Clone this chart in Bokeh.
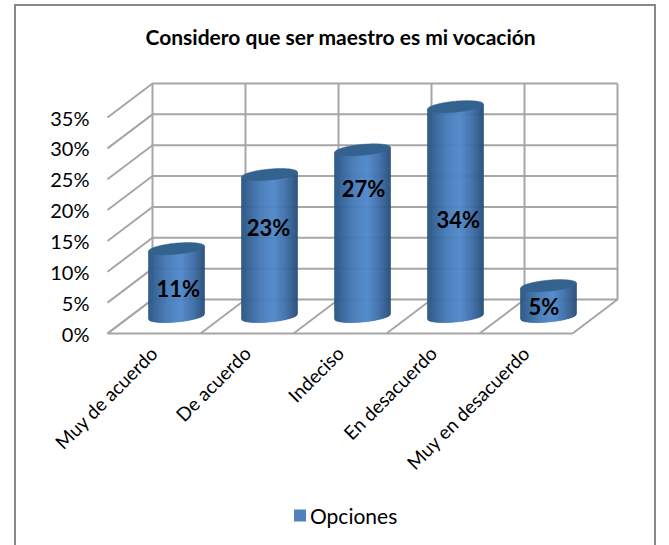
from math import pi, sqrt
from bokeh.plotting import figure
from bokeh.models import FixedTicker, NumeralTickFormatter, Legend, LegendItem
from bokeh.core.properties import value
from bokeh.embed import file_html
from bokeh.resources import INLINE

# ---- data
title = "Considero que ser maestro es mi vocación"
categories = ["Muy de acuerdo", "De acuerdo", "Indeciso", "En desacuerdo", "Muy en desacuerdo"]
values = [0.11, 0.23, 0.27, 0.34, 0.05]
value_labels = ["11%", "23%", "27%", "34%", "5%"]
y_ticks = [0.0, 0.05, 0.10, 0.15, 0.20, 0.25, 0.30, 0.35]
series_name = "Opciones"
# where the label sits along each cylinder (fraction of height) and its side shift
label_fraction = [0.41, 0.63, 0.77, 0.46, 0.32]
label_shift = [0.02, -0.01, 0.01, 0.03, -0.05]

# ---- oblique projection, in axis units
PX_X = 93.0            # pixels per category
PX_Y = 216.0 / 0.35    # pixels per unit of value
DEPTH_X = 45 / PX_X
DEPTH_Y = 34 / PX_Y
RX = 28 / PX_X         # cylinder half width
RY = 5.5 / PX_Y        # cap half height
SHEAR = 0.09 * PX_X / PX_Y   # rise of the ellipse to the right

GRID = "#a6a6a6"
STOPS = [(0.0, (42, 84, 130)), (0.12, (50, 98, 150)), (0.35, (70, 122, 184)),
         (0.58, (80, 136, 202)), (0.8, (62, 110, 168)), (1.0, (40, 78, 120))]
CAP = "#34628f"


def shade(t):
    for (t0, c0), (t1, c1) in zip(STOPS, STOPS[1:]):
        if t <= t1:
            f = (t - t0) / (t1 - t0)
            return "#%02x%02x%02x" % tuple(round(a + (b - a) * f) for a, b in zip(c0, c1))
    return "#%02x%02x%02x" % STOPS[-1][1]


p = figure(width=642, height=541, output_backend="svg", toolbar_location=None,
           x_range=(-0.5 - 2 / PX_X, 4.5 + DEPTH_X + 2 / PX_X),
           y_range=(-2 / PX_Y, 0.35 + 36 / PX_Y),
           min_border_left=89, min_border_right=39, min_border_top=75, min_border_bottom=212,
           background_fill_color="white", border_fill_color="white",
           styles={"position": "absolute", "left": "14px", "top": "4px",
                   "border-left": "2px solid #888888", "border-right": "2px solid #888888",
                   "border-top": "2px solid #888888", "box-sizing": "border-box"})
p.outline_line_color = None
p.grid.visible = False

ya = p.yaxis[0]
ya.ticker = FixedTicker(ticks=y_ticks)
ya.formatter = NumeralTickFormatter(format="0%")
ya.axis_line_color = None
ya.major_tick_line_color = None
ya.minor_tick_line_color = None
ya.major_label_standoff = 10
ya.major_label_text_font = "Lato"
ya.major_label_text_font_size = "20px"
ya.major_label_text_color = "#000000"

xa = p.xaxis[0]
xa.ticker = FixedTicker(ticks=list(range(len(categories))))
xa.major_label_overrides = {i: c for i, c in enumerate(categories)}
xa.major_label_orientation = pi / 4
xa.axis_line_color = None
xa.major_tick_line_color = None
xa.minor_tick_line_color = None
xa.major_label_standoff = 8
xa.major_label_text_font = "Lato"
xa.major_label_text_font_size = "19px"
xa.major_label_text_color = "#000000"

# ---- walls and floor
left, right = -0.5, -0.5 + len(categories)
top = y_ticks[-1]
gx, gy = [], []
for t in y_ticks:                       # back wall and side wall lines
    gx.append([left, left + DEPTH_X, right + DEPTH_X])
    gy.append([t, t + DEPTH_Y, t + DEPTH_Y])
for i in range(len(categories) + 1):    # floor depth lines and back verticals
    b = left + i
    gx.append([b, b + DEPTH_X, b + DEPTH_X])
    gy.append([0, DEPTH_Y, top + DEPTH_Y])
gx.append([left, right])                # front edge of the floor
gy.append([0, 0])
p.multi_line(gx, gy, line_color=GRID, line_width=2)

# ---- cylinders
N = 56
sx, sy, sc = [], [], []
cap_x, cap_y = [], []
for i, v in enumerate(values):
    cx = i + DEPTH_X / 2
    cy = DEPTH_Y / 2
    for k in range(N):
        u0 = -1 + 2 * k / N
        u1 = -1 + 2 * (k + 1) / N
        um = (u0 + u1) / 2
        edge = lambda u: sqrt(max(0.0, 1 - u * u))
        x0, x1 = cx + RX * u0, cx + RX * u1
        b0 = cy - RY * edge(u0) + SHEAR * RX * u0
        b1 = cy - RY * edge(u1) + SHEAR * RX * u1
        t0 = cy + v + SHEAR * RX * u0
        t1 = cy + v + SHEAR * RX * u1
        sx.append([x0, x1, x1, x0])
        sy.append([b0, b1, t1, t0])
        sc.append(shade((um + 1) / 2))
    rim = [-1 + 2 * k / 60 for k in range(61)]
    cap_x.append([cx + RX * u for u in rim] + [cx + RX * u for u in reversed(rim)])
    cap_y.append([cy + v + SHEAR * RX * u + RY * sqrt(max(0.0, 1 - u * u)) for u in rim]
                 + [cy + v + SHEAR * RX * u - RY * sqrt(max(0.0, 1 - u * u)) for u in reversed(rim)])
p.patches(sx, sy, fill_color=sc, line_color=sc, line_width=0.6)
p.patches(cap_x, cap_y, fill_color=CAP, line_color=CAP, line_width=0.5)

# ---- value labels
p.text([i + DEPTH_X / 2 + s for i, s in enumerate(label_shift)],
       [DEPTH_Y / 2 + v * f for v, f in zip(values, label_fraction)],
       text=value_labels, text_align="center", text_baseline="middle",
       text_font=value("Lato"), text_font_style="bold", text_font_size="22px", text_color="#000000")

# ---- legend, in a small figure of its own laid over the empty lower area
q = figure(width=120, height=34, output_backend="svg", toolbar_location=None,
           x_axis_type=None, y_axis_type=None, x_range=(0, 1), y_range=(0, 1),
           min_border=0, outline_line_color=None, background_fill_alpha=0, border_fill_alpha=0,
           styles={"position": "absolute", "left": "292px", "top": "498px"})
q.grid.visible = False
swatch = q.quad(left=[2], right=[3], top=[3], bottom=[2], fill_color="#4f81bd", line_color=None)
legend = Legend(items=[LegendItem(label=series_name, renderers=[swatch])],
                location="center_left", border_line_color=None, background_fill_alpha=0,
                padding=0, margin=0, glyph_width=15, glyph_height=15, label_standoff=3,
                label_text_font="Lato", label_text_font_size="21px", label_text_color="#000000")
q.add_layout(legend, "center")

# ---- title, in its own strip above the plot area
r = figure(width=420, height=30, output_backend="svg", toolbar_location=None,
           x_axis_type=None, y_axis_type=None, x_range=(0, 1), y_range=(0, 1),
           min_border=0, outline_line_color=None, background_fill_alpha=0, border_fill_alpha=0,
           styles={"position": "absolute", "left": "145px", "top": "21px"})
r.grid.visible = False
r.text([0], [0.5], text=[title], text_align="left", text_baseline="middle",
       text_font=value("Lato"), text_font_style="bold", text_font_size="21px", text_color="#000000")

open("out.html", "w").write(file_html([p, q, r], INLINE))
